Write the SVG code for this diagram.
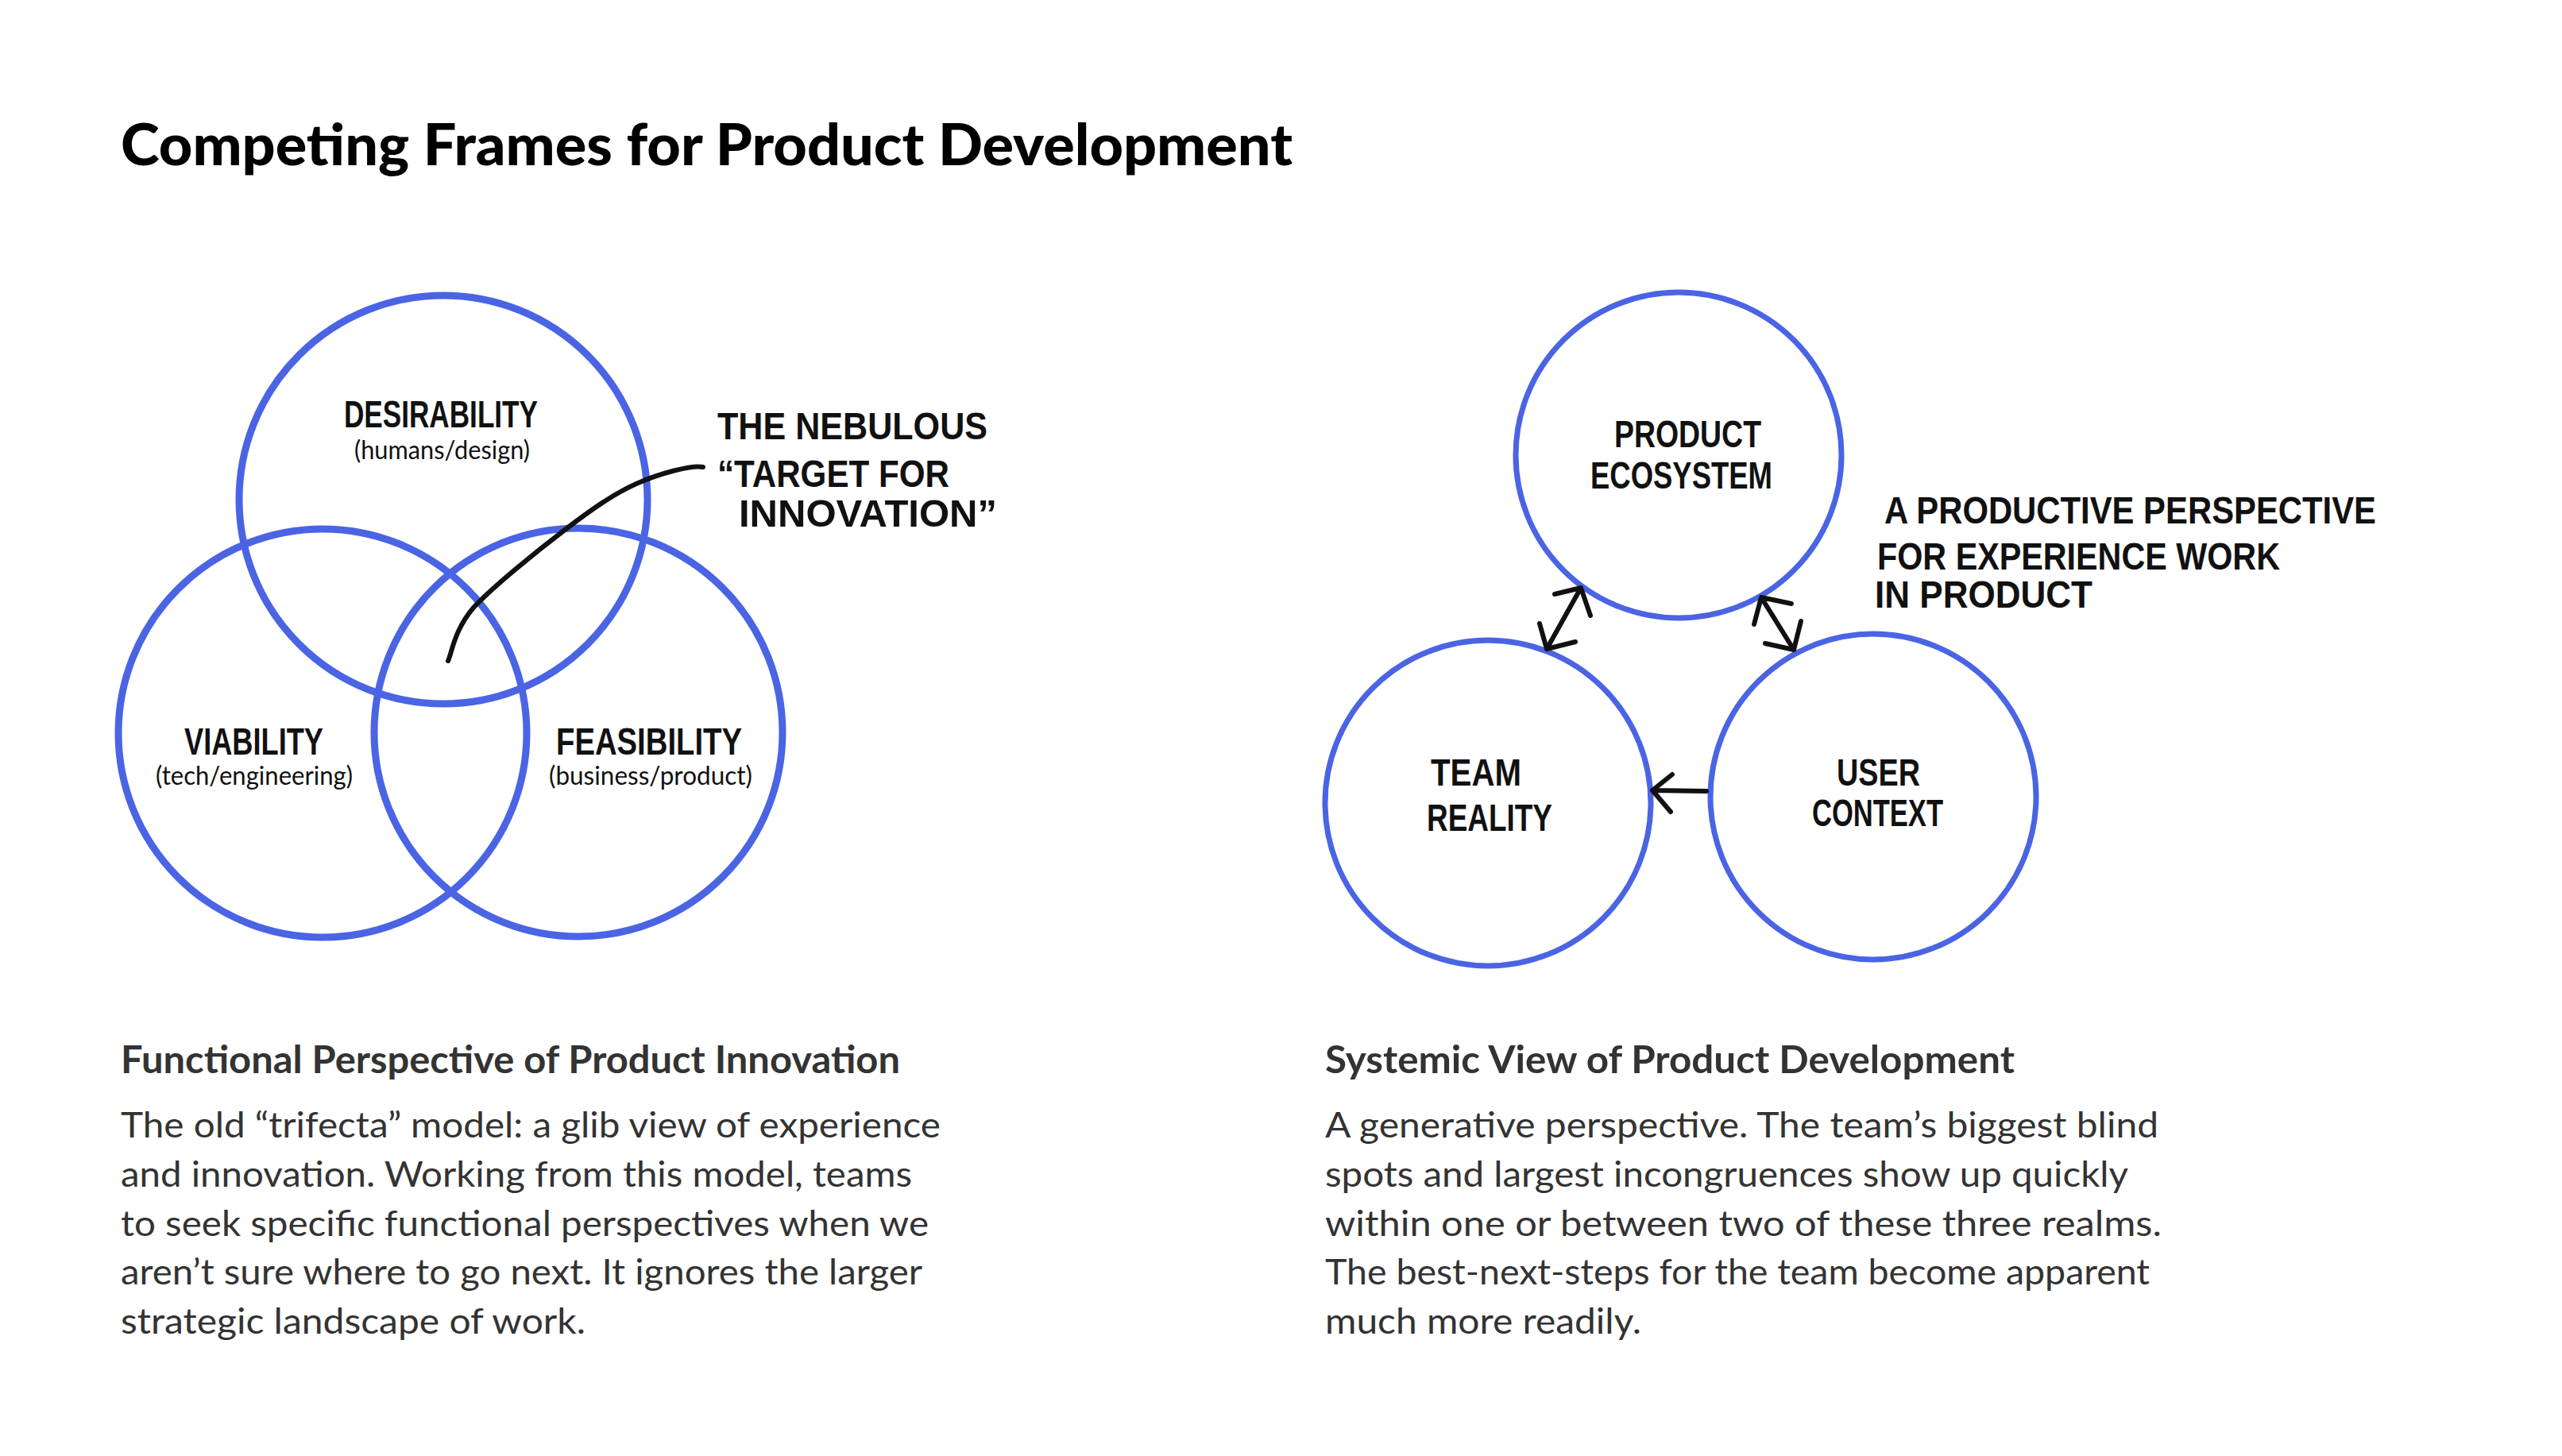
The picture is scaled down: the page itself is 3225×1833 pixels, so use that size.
<svg xmlns="http://www.w3.org/2000/svg" width="3225" height="1833" viewBox="0 0 3225 1833">
<style>
.ring{fill:none;stroke:#4a64e4;stroke-width:9}
.ring2{fill:none;stroke:#4a64e4;stroke-width:7}
.hand{font-family:"Liberation Sans Narrow","Liberation Sans","DejaVu Sans",sans-serif;font-weight:bold;font-size:48px;fill:#111}
.sub{font-family:Lato,"Noto Sans",sans-serif;font-size:32px;fill:#111}
.title{font-family:Lato,"Noto Sans",sans-serif;font-weight:900;font-size:72px;fill:#000}
.head{font-family:Lato,"Noto Sans",sans-serif;font-weight:700;font-size:47px;fill:#333}
.body{font-family:Lato,"Noto Sans",sans-serif;font-size:45px;fill:#333}
.ink{fill:none;stroke:#111;stroke-width:6;stroke-linecap:round;stroke-linejoin:round}
</style>
<rect width="3225" height="1833" fill="#fff"/>
<text class="title" x="152" y="208" textLength="1475" lengthAdjust="spacingAndGlyphs">Competing Frames for Product Development</text>

<g id="desirability">
<circle class="ring" cx="558" cy="629" r="257"/>
<text class="hand" x="433" y="538" textLength="244" lengthAdjust="spacingAndGlyphs">DESIRABILITY</text>
<text class="sub" x="446" y="578" textLength="221" lengthAdjust="spacingAndGlyphs">(humans/design)</text>
</g>
<g id="viability">
<circle class="ring" cx="406" cy="923" r="257"/>
<text class="hand" x="232" y="950" textLength="175" lengthAdjust="spacingAndGlyphs">VIABILITY</text>
<text class="sub" x="196" y="988" textLength="248" lengthAdjust="spacingAndGlyphs">(tech/engineering)</text>
</g>
<g id="feasibility">
<circle class="ring" cx="728" cy="922" r="257"/>
<text class="hand" x="700" y="950" textLength="234" lengthAdjust="spacingAndGlyphs">FEASIBILITY</text>
<text class="sub" x="691" y="988" textLength="256" lengthAdjust="spacingAndGlyphs">(business/product)</text>
</g>
<g id="nebulous-note">
<text class="hand" x="903" y="553" textLength="340" lengthAdjust="spacingAndGlyphs">THE NEBULOUS</text>
<text class="hand" x="903" y="613" textLength="292" lengthAdjust="spacingAndGlyphs">“TARGET FOR</text>
<text class="hand" x="930" y="663" textLength="325" lengthAdjust="spacingAndGlyphs">INNOVATION”</text>
</g>

<g id="product-ecosystem">
<circle class="ring2" cx="2113" cy="573" r="205"/>
<text class="hand" x="2032" y="563" textLength="185" lengthAdjust="spacingAndGlyphs">PRODUCT</text>
<text class="hand" x="2002" y="615" textLength="229" lengthAdjust="spacingAndGlyphs">ECOSYSTEM</text>
</g>
<g id="team-reality">
<circle class="ring2" cx="1873" cy="1011" r="205"/>
<text class="hand" x="1801" y="989" textLength="114" lengthAdjust="spacingAndGlyphs">TEAM</text>
<text class="hand" x="1796" y="1046" textLength="158" lengthAdjust="spacingAndGlyphs">REALITY</text>
</g>
<g id="user-context">
<circle class="ring2" cx="2358" cy="1003" r="205"/>
<text class="hand" x="2312" y="989" textLength="105" lengthAdjust="spacingAndGlyphs">USER</text>
<text class="hand" x="2281" y="1040" textLength="165" lengthAdjust="spacingAndGlyphs">CONTEXT</text>
</g>
<g id="productive-note">
<text class="hand" x="2372" y="659" textLength="619" lengthAdjust="spacingAndGlyphs">A PRODUCTIVE PERSPECTIVE</text>
<text class="hand" x="2363" y="717" textLength="507" lengthAdjust="spacingAndGlyphs">FOR EXPERIENCE WORK</text>
<text class="hand" x="2360" y="765" textLength="274" lengthAdjust="spacingAndGlyphs">IN PRODUCT</text>
</g>

<g id="connectors">
<path class="ink" d="M564 832 C569 821 572 793 596 765 C621 738 677 693 711 667 C745 641 772 622 801 609 C830 596 871 585 885 588"/>
<path class="ink" d="M1990 740 L1947 817 M1957 748 L1990 740 L2002 775 M1938 785 L1947 817 L1983 808"/>
<path class="ink" d="M2217 752 L2258 818 M2255 760 L2217 752 L2208 786 M2267 782 L2258 818 L2222 810"/>
<path class="ink" d="M2148 996 L2080 995 M2105 975 L2080 995 L2103 1022"/>
</g>

<g id="left-caption">
<text class="head" x="152" y="1351" textLength="981" lengthAdjust="spacingAndGlyphs">Functional Perspective of Product Innovation</text>
<text class="body" x="152" y="1432" textLength="1032" lengthAdjust="spacingAndGlyphs">The old “trifecta” model: a glib view of experience</text>
<text class="body" x="152" y="1494" textLength="996" lengthAdjust="spacingAndGlyphs">and innovation. Working from this model, teams</text>
<text class="body" x="152" y="1556" textLength="1017" lengthAdjust="spacingAndGlyphs">to seek specific functional perspectives when we</text>
<text class="body" x="152" y="1617" textLength="1009" lengthAdjust="spacingAndGlyphs">aren’t sure where to go next. It ignores the larger</text>
<text class="body" x="152" y="1679" textLength="585" lengthAdjust="spacingAndGlyphs">strategic landscape of work.</text>
</g>
<g id="right-caption">
<text class="head" x="1668" y="1351" textLength="868" lengthAdjust="spacingAndGlyphs">Systemic View of Product Development</text>
<text class="body" x="1668" y="1432" textLength="1049" lengthAdjust="spacingAndGlyphs">A generative perspective. The team’s biggest blind</text>
<text class="body" x="1668" y="1494" textLength="1011" lengthAdjust="spacingAndGlyphs">spots and largest incongruences show up quickly</text>
<text class="body" x="1668" y="1556" textLength="1053" lengthAdjust="spacingAndGlyphs">within one or between two of these three realms.</text>
<text class="body" x="1668" y="1617" textLength="1038" lengthAdjust="spacingAndGlyphs">The best-next-steps for the team become apparent</text>
<text class="body" x="1668" y="1679" textLength="398" lengthAdjust="spacingAndGlyphs">much more readily.</text>
</g>
</svg>
